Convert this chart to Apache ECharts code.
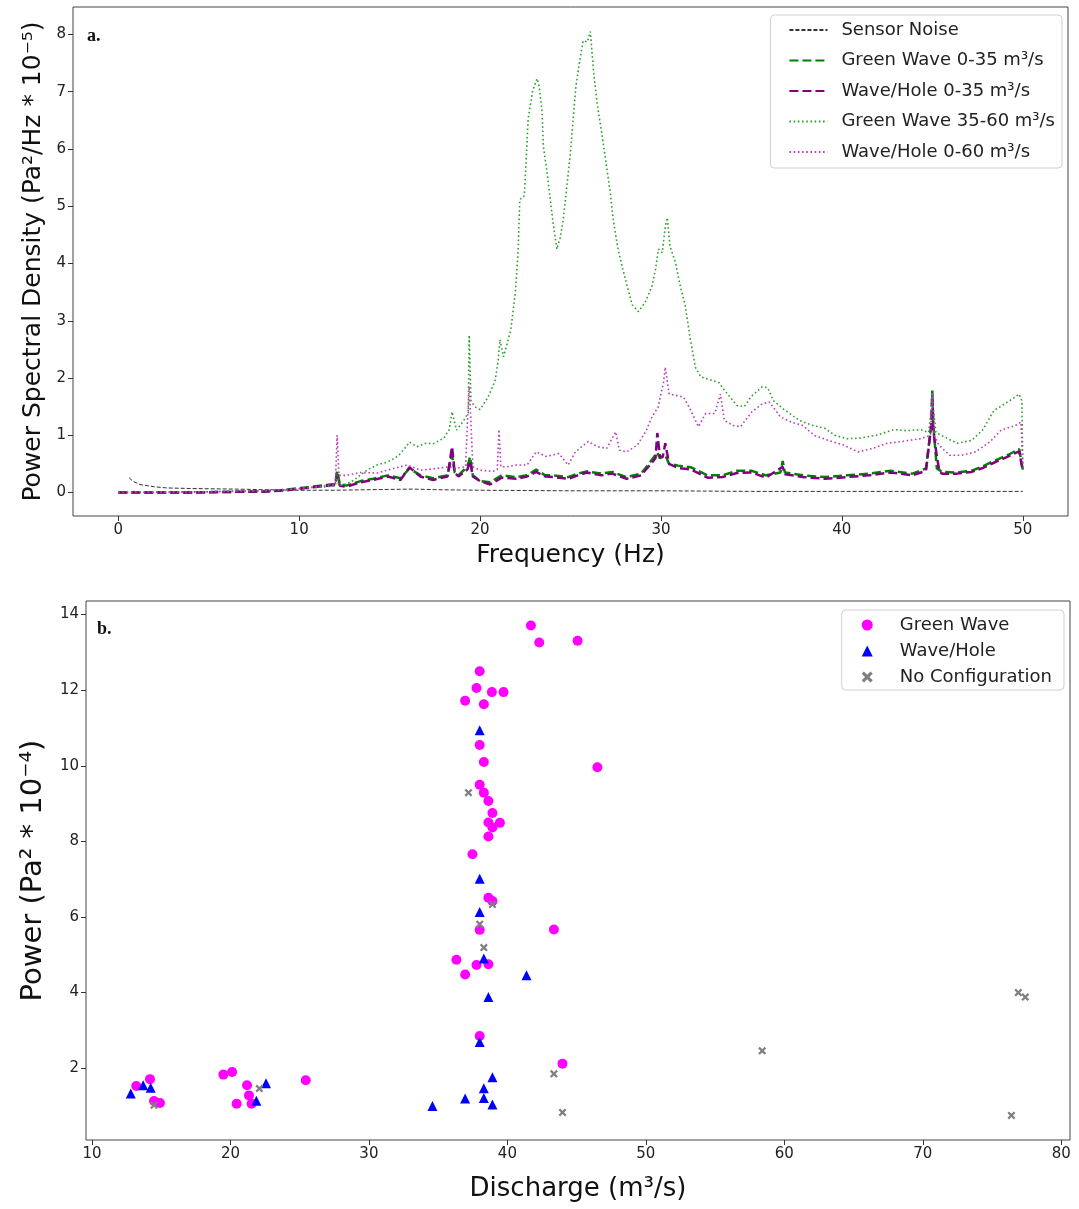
<!DOCTYPE html>
<html>
<head>
<meta charset="utf-8">
<title>PSD and Power</title>
<script src="https://cdn.jsdelivr.net/npm/echarts@6/dist/echarts.min.js"></script>
<style>
  html, body { margin: 0; padding: 0; background: #fff; }
  #main { width: 1079px; height: 1209px; }
</style>
</head>
<body>
<div id="main"></div>
<script type="text/javascript">
// panel a: [frequency Hz, PSD * 1e-5]
var sensorNoise = [[0.6,0.26],[0.8,0.2],[1.2,0.14],[2.0,0.1],[2.7,0.08],[4,0.07],[6.4,0.06],[8,0.05],[10,0.04],[12,0.04],[14,0.05],[16.3,0.06],[17.5,0.05],[20,0.04],[25,0.03],[30,0.03],[35,0.02],[40,0.02],[45,0.02],[50,0.02]];

var greenWave035 = [[0,0],[2,0],[4,0],[6,0.01],[8.2,0.02],[9.3,0.05],[10.4,0.09],[11.5,0.13],[12.0,0.15],[12.1,0.38],[12.25,0.15],[12.6,0.12],[13.4,0.2],[14.1,0.24],[14.9,0.3],[15.6,0.25],[16.1,0.42],[16.7,0.3],[17.4,0.25],[18.2,0.3],[18.45,0.65],[18.6,0.35],[18.8,0.3],[19.3,0.45],[19.45,0.62],[19.6,0.3],[20.0,0.2],[20.56,0.18],[21.2,0.3],[22.0,0.27],[22.6,0.3],[23.1,0.4],[23.6,0.3],[24.05,0.3],[24.87,0.27],[25.4,0.33],[25.9,0.37],[26.7,0.33],[27.3,0.36],[28.1,0.27],[28.9,0.33],[29.33,0.5],[29.8,0.7],[29.94,0.6],[30.24,0.65],[30.45,0.5],[30.95,0.47],[31.66,0.44],[32.58,0.3],[33.4,0.3],[34.2,0.38],[35.0,0.38],[35.8,0.3],[36.6,0.35],[36.73,0.55],[36.85,0.35],[37.85,0.3],[39.07,0.27],[40.28,0.3],[41.5,0.33],[42.7,0.38],[43.9,0.33],[44.65,0.42],[44.95,1.2],[45.0,1.78],[45.05,1.2],[45.25,0.42],[45.55,0.36],[46.37,0.35],[47.18,0.38],[47.8,0.46],[48.4,0.55],[49.2,0.66],[49.8,0.76],[50.0,0.4]];

var waveHole035 = [[0,0],[2,0],[4,0],[6,0.01],[8.2,0.02],[9.3,0.04],[10.4,0.08],[11.5,0.12],[12.0,0.13],[12.1,0.3],[12.25,0.12],[12.6,0.1],[13.4,0.18],[14.1,0.22],[14.9,0.28],[15.6,0.22],[16.1,0.44],[16.7,0.28],[17.4,0.22],[18.2,0.28],[18.45,0.8],[18.6,0.35],[18.8,0.28],[19.3,0.4],[19.45,0.55],[19.6,0.28],[20.0,0.2],[20.56,0.14],[21.2,0.26],[22.0,0.24],[22.6,0.28],[23.1,0.36],[23.6,0.28],[24.05,0.27],[24.87,0.24],[25.4,0.3],[25.9,0.35],[26.7,0.3],[27.3,0.33],[28.1,0.24],[28.9,0.3],[29.33,0.46],[29.7,0.6],[29.8,1.04],[29.94,0.63],[30.1,0.62],[30.24,0.86],[30.45,0.5],[30.95,0.43],[31.66,0.4],[32.58,0.26],[33.4,0.27],[34.2,0.34],[35.0,0.35],[35.8,0.26],[36.73,0.45],[36.85,0.32],[37.85,0.27],[39.07,0.24],[40.28,0.27],[41.5,0.3],[42.7,0.35],[43.9,0.3],[44.65,0.38],[44.95,1.2],[45.0,1.72],[45.05,1.1],[45.25,0.63],[45.4,0.36],[45.55,0.33],[46.37,0.33],[47.18,0.36],[47.8,0.43],[48.4,0.52],[49.2,0.63],[49.8,0.72],[50.0,0.38]];

var greenWave3560 = [[0,0],[2,0.01],[4,0.01],[6,0.02],[8,0.03],[9.3,0.05],[10.4,0.08],[11.5,0.1],[12.0,0.12],[12.1,0.3],[12.2,0.12],[12.6,0.15],[13.0,0.21],[13.75,0.39],[14.3,0.48],[14.85,0.53],[15.3,0.6],[15.6,0.68],[16.1,0.88],[16.5,0.8],[17.0,0.86],[17.4,0.85],[18.0,0.95],[18.3,1.1],[18.45,1.41],[18.7,1.09],[19.1,1.26],[19.35,1.4],[19.4,2.75],[19.5,1.6],[19.7,1.5],[20.0,1.45],[20.45,1.67],[20.84,1.96],[21.0,2.3],[21.1,2.67],[21.3,2.37],[21.7,2.84],[21.95,3.49],[22.1,4.19],[22.2,5.12],[22.45,5.18],[22.55,5.82],[22.66,6.53],[22.9,7.0],[23.15,7.23],[23.27,7.09],[23.43,6.65],[23.5,6.05],[23.7,5.6],[23.9,5.07],[24.05,4.68],[24.25,4.25],[24.43,4.45],[24.6,4.77],[24.8,5.35],[25.0,5.95],[25.15,6.53],[25.3,7.1],[25.5,7.52],[25.7,7.89],[25.93,7.87],[26.1,8.05],[26.26,7.4],[26.46,6.82],[26.75,6.23],[27.03,5.61],[27.2,5.24],[27.36,4.77],[27.6,4.3],[27.85,3.95],[28.14,3.6],[28.41,3.28],[28.75,3.16],[29.13,3.32],[29.5,3.6],[29.7,3.9],[29.86,4.25],[30.07,4.19],[30.24,4.65],[30.35,4.8],[30.5,4.3],[30.8,4.02],[31.07,3.6],[31.35,3.25],[31.6,2.72],[31.9,2.19],[32.2,2.02],[32.6,1.98],[33.2,1.92],[33.6,1.75],[34.2,1.52],[34.6,1.5],[35.0,1.68],[35.6,1.85],[35.9,1.83],[36.2,1.61],[36.8,1.45],[37.65,1.26],[38.3,1.18],[39.07,1.12],[39.6,1.0],[40.28,0.94],[41.0,0.95],[41.9,1.0],[42.9,1.1],[43.6,1.08],[44.34,1.1],[44.8,1.05],[44.95,1.5],[45.0,1.76],[45.05,1.5],[45.2,1.05],[45.6,0.98],[46.37,0.86],[47.18,0.91],[47.8,1.1],[48.4,1.43],[49.0,1.55],[49.5,1.65],[49.8,1.72],[49.95,1.6],[50.0,0.45]];

var waveHole060 = [[0,0],[4,0.01],[8,0.03],[10,0.07],[11.5,0.12],[12.0,0.15],[12.1,1.0],[12.2,0.3],[12.6,0.3],[13.4,0.35],[14.3,0.34],[15.2,0.42],[16.0,0.48],[16.7,0.39],[17.6,0.42],[18.35,0.45],[18.6,0.42],[19.2,0.45],[19.3,1.2],[19.4,1.85],[19.5,1.2],[19.6,0.45],[20.0,0.39],[20.7,0.37],[20.95,0.4],[21.05,1.1],[21.15,0.45],[21.5,0.45],[22.0,0.48],[22.6,0.48],[23.1,0.71],[23.65,0.63],[24.36,0.68],[24.87,0.48],[25.27,0.71],[25.98,0.89],[26.5,0.8],[27.0,0.77],[27.5,1.06],[27.7,0.74],[28.1,0.71],[28.7,0.83],[29.2,1.09],[29.5,1.32],[29.84,1.49],[30.14,1.92],[30.24,2.19],[30.45,1.72],[30.95,1.69],[31.26,1.66],[31.66,1.43],[32.07,1.15],[32.47,1.38],[32.98,1.38],[33.29,1.72],[33.5,1.26],[34.0,1.17],[34.4,1.15],[35.0,1.4],[35.6,1.55],[36.0,1.58],[36.6,1.32],[37.2,1.23],[37.85,1.17],[38.46,1.0],[39.27,0.91],[40.08,0.83],[40.9,0.71],[41.7,0.77],[42.5,0.86],[43.3,0.89],[44.34,0.94],[44.9,1.0],[45.0,1.7],[45.1,1.0],[45.36,0.83],[45.96,0.65],[46.6,0.65],[47.4,0.71],[48.2,0.89],[48.8,1.09],[49.6,1.17],[49.9,1.23],[50.0,0.5]];

// panel b: [discharge m3/s, power * 1e-4]
var greenWavePts = [[13.2,1.53],[14.19,1.71],[14.48,1.13],[14.91,1.08],[19.49,1.83],[20.12,1.9],[21.2,1.55],[21.34,1.28],[20.45,1.06],[21.53,1.06],[25.44,1.68],[36.32,4.87],[36.95,4.48],[37.77,4.73],[38.63,4.75],[38.0,5.66],[38.0,2.85],[38.63,6.51],[38.92,6.42],[37.48,7.66],[38.63,8.13],[38.92,8.37],[38.63,8.5],[39.46,8.49],[38.92,8.75],[38.63,9.07],[38.3,9.29],[38.0,9.5],[46.5,9.96],[38.3,10.1],[38.0,10.55],[36.95,11.72],[38.3,11.63],[37.77,12.06],[38.88,11.95],[39.72,11.95],[38.0,12.5],[41.7,13.71],[42.3,13.26],[45.07,13.31],[43.36,5.67],[43.98,2.12]];
var waveHolePts = [[12.8,1.33],[13.7,1.55],[14.24,1.48],[22.57,1.6],[21.87,1.14],[34.59,1.0],[36.95,1.2],[38.3,1.21],[38.92,1.04],[38.3,1.47],[38.92,1.76],[38.0,2.69],[38.63,3.88],[41.38,4.46],[38.3,4.9],[38.0,6.13],[38.0,7.01],[38.0,10.94]];
var noConfigPts = [[14.48,1.02],[22.09,1.46],[37.19,9.29],[38.92,6.33],[38.0,5.81],[38.3,5.19],[43.36,1.85],[43.98,0.83],[58.4,2.46],[76.4,0.75],[76.9,4.0],[77.4,3.88]];

var freqTicks = [0, 10, 20, 30, 40, 50];
var psdTicks = [0, 1, 2, 3, 4, 5, 6, 7, 8];
var dischargeTicks = [10, 20, 30, 40, 50, 60, 70, 80];
var powerTicks = [2, 4, 6, 8, 10, 12, 14];

var FONT = 'DejaVu Sans';
var xMark = 'path://M2,0 L5,3 L8,0 L10,2 L7,5 L10,8 L8,10 L5,7 L2,10 L0,8 L3,5 L0,2 Z';

function valAxis(gi, min, max, ticks, name, nameSize, gap) {
    return {
        type: 'value', gridIndex: gi, min: min, max: max,
        name: name, nameLocation: 'middle', nameGap: gap,
        nameTextStyle: {fontFamily: FONT, fontSize: nameSize, color: '#111'},
        axisLine: {show: false, onZero: false},
        axisTick: {show: true, length: 5, customValues: ticks, lineStyle: {color: '#333'}},
        axisLabel: {customValues: ticks, fontFamily: FONT, fontSize: 15, color: '#222', margin: 7},
        splitLine: {show: false}
    };
}

var myChart = echarts.init(document.getElementById('main'));

option = {
    backgroundColor: '#fff',
    animation: false,
    grid: [
        {left: 73, top: 7, width: 995, height: 509, show: true, borderColor: '#444', borderWidth: 1},
        {left: 86, top: 601, width: 984, height: 539, show: true, borderColor: '#444', borderWidth: 1}
    ],
    xAxis: [
        valAxis(0, -2.5, 52.5, freqTicks, 'Frequency (Hz)', 25, 27),
        valAxis(1, 9.57, 80.63, dischargeTicks, 'Discharge (m³/s)', 26, 36)
    ],
    yAxis: [
        valAxis(0, -0.41, 8.48, psdTicks, 'Power Spectral Density (Pa²/Hz * 10⁻⁵)', 25, 27),
        valAxis(1, 0.1, 14.36, powerTicks, 'Power (Pa² * 10⁻⁴)', 29, 38)
    ],
    legend: [
        {
            orient: 'vertical', right: 17, top: 15,
            itemWidth: 38, itemHeight: 14, itemGap: 10.5,
            padding: [5, 7, 6, 18],
            backgroundColor: '#fff', borderColor: '#d0d0d0', borderWidth: 1, borderRadius: 4,
            itemStyle: {opacity: 0},
            textStyle: {fontFamily: FONT, fontSize: 18, lineHeight: 20, color: '#222', padding: [0, 0, 0, 9]},
            data: ['Sensor Noise', 'Green Wave 0-35 m³/s', 'Wave/Hole 0-35 m³/s', 'Green Wave 35-60 m³/s', 'Wave/Hole 0-60 m³/s']
        },
        {
            orient: 'vertical', right: 15, top: 610,
            itemWidth: 11, itemHeight: 11, itemGap: 6,
            padding: [5, 12, 3, 20],
            backgroundColor: '#fff', borderColor: '#d0d0d0', borderWidth: 1, borderRadius: 4,
            textStyle: {fontFamily: FONT, fontSize: 18, lineHeight: 20, color: '#222', padding: [0, 0, 0, 22]},
            data: ['Green Wave', 'Wave/Hole', 'No Configuration']
        }
    ],
    graphic: [
        {type: 'text', left: 87, top: 27, style: {text: 'a.', font: 'bold 18px "Liberation Serif"', fill: '#111'}},
        {type: 'text', left: 97, top: 620, style: {text: 'b.', font: 'bold 18px "Liberation Serif"', fill: '#111'}}
    ],
    series: [
        {
            name: 'Sensor Noise', type: 'line', xAxisIndex: 0, yAxisIndex: 0,
            data: sensorNoise, showSymbol: false, symbol: 'none',
            lineStyle: {color: '#333', width: 1, type: [4, 2]}, itemStyle: {color: '#333'}
        },
        {
            name: 'Green Wave 0-35 m³/s', type: 'line', xAxisIndex: 0, yAxisIndex: 0,
            data: greenWave035, showSymbol: false, symbol: 'none',
            lineStyle: {color: '#008000', width: 2.5, type: [9, 4]}, itemStyle: {color: '#008000'}
        },
        {
            name: 'Wave/Hole 0-35 m³/s', type: 'line', xAxisIndex: 0, yAxisIndex: 0,
            data: waveHole035, showSymbol: false, symbol: 'none',
            lineStyle: {color: '#800080', width: 2.5, type: [9, 4]}, itemStyle: {color: '#800080'}
        },
        {
            name: 'Green Wave 35-60 m³/s', type: 'line', xAxisIndex: 0, yAxisIndex: 0,
            data: greenWave3560, showSymbol: false, symbol: 'none',
            lineStyle: {color: '#2ca02c', width: 1.6, type: [1.6, 2.6]}, itemStyle: {color: '#2ca02c'}
        },
        {
            name: 'Wave/Hole 0-60 m³/s', type: 'line', xAxisIndex: 0, yAxisIndex: 0,
            data: waveHole060, showSymbol: false, symbol: 'none',
            lineStyle: {color: '#bb3dbb', width: 1.6, type: [1.6, 2.6]}, itemStyle: {color: '#bb3dbb'}
        },
        {
            name: 'Green Wave', type: 'scatter', xAxisIndex: 1, yAxisIndex: 1,
            data: greenWavePts, symbol: 'circle', symbolSize: 10,
            itemStyle: {color: '#ff00ff', opacity: 1}
        },
        {
            name: 'Wave/Hole', type: 'scatter', xAxisIndex: 1, yAxisIndex: 1,
            data: waveHolePts, symbol: 'triangle', symbolSize: 10,
            itemStyle: {color: '#0000ff', opacity: 1}
        },
        {
            name: 'No Configuration', type: 'scatter', xAxisIndex: 1, yAxisIndex: 1,
            data: noConfigPts, symbol: xMark, symbolSize: 8,
            itemStyle: {color: '#808080', opacity: 1}
        }
    ]
};
myChart.setOption(option, true);
</script>
</body>
</html>
